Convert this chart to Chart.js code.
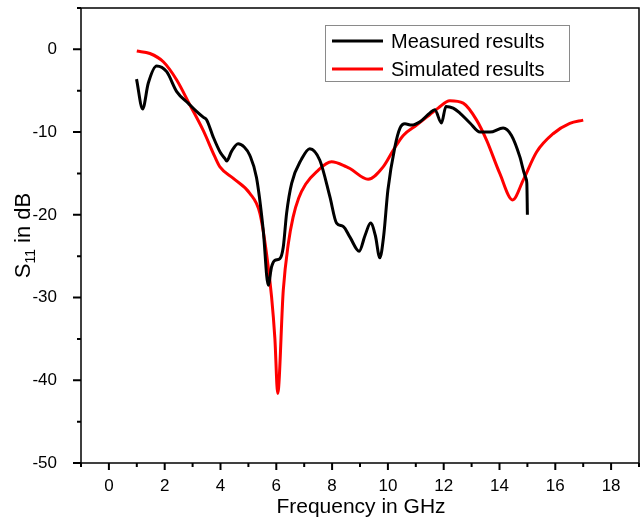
<!DOCTYPE html>
<html>
<head>
<meta charset="utf-8">
<script src="https://cdn.jsdelivr.net/npm/chart.js@4.4.1/dist/chart.umd.min.js"></script>
<style>
  html, body { margin: 0; padding: 0; background: #fff; }
  #wrap { width: 641px; height: 519px; }
</style>
</head>
<body>
<div id="wrap"><canvas id="s11Chart" width="641" height="519"></canvas></div>
<script>
// values
const measuredFreq = [0.99, 1.21, 1.41, 1.71, 2.07, 2.43, 2.84, 3.14, 3.38, 3.50, 3.74, 4.00, 4.16, 4.22, 4.40, 4.63, 4.85, 5.05, 5.29, 5.53, 5.71, 5.83, 5.95, 6.13, 6.25, 6.37, 6.55, 6.90, 7.20, 7.56, 7.92, 8.16, 8.40, 8.64, 8.97, 9.18, 9.38, 9.55, 9.71, 9.85, 10.0, 10.25, 10.43, 10.61, 10.85, 11.15, 11.50, 11.68, 11.92, 12.08, 12.34, 12.58, 12.94, 13.30, 13.66, 14.13, 14.43, 14.73, 14.87, 14.95, 14.98, 15.0];
const measuredS11 = [-3.6, -7.2, -4.1, -2.0, -2.7, -5.1, -6.5, -7.5, -8.2, -8.5, -10.6, -12.5, -13.2, -13.5, -12.3, -11.4, -11.8, -12.8, -15.5, -21.8, -28.5, -26.3, -25.5, -25.3, -23.9, -19.8, -16.2, -13.3, -12.0, -13.4, -17.8, -21.0, -21.4, -22.7, -24.4, -22.5, -21.0, -22.5, -25.2, -22.5, -17.0, -11.8, -9.55, -9.0, -9.15, -8.75, -7.7, -7.3, -8.9, -6.9, -7.1, -7.7, -8.9, -10.0, -10.0, -9.5, -10.4, -13.0, -14.8, -15.6, -16.2, -20.0];

const simulatedFreq = [1.0, 1.47, 1.95, 2.43, 2.90, 3.38, 3.80, 3.98, 4.46, 5.05, 5.41, 5.65, 5.83, 5.95, 6.05, 6.25, 6.43, 6.60, 6.80, 7.05, 7.44, 7.98, 8.52, 8.64, 9.29, 9.83, 10.19, 10.55, 11.03, 11.50, 11.80, 12.22, 12.70, 13.18, 13.54, 14.01, 14.47, 14.85, 15.33, 15.92, 16.52, 17.0];
const simulatedS11 = [-0.2, -0.5, -1.5, -3.7, -6.7, -9.8, -13.0, -14.2, -15.6, -17.4, -19.8, -24.7, -29.9, -35.0, -41.6, -29.1, -23.5, -20.3, -18.0, -16.3, -14.8, -13.6, -14.2, -14.4, -15.7, -14.2, -12.2, -10.4, -9.15, -7.9, -7.1, -6.2, -6.5, -8.55, -11.0, -15.0, -18.2, -15.8, -12.4, -10.2, -8.95, -8.55];

const xTickValues = [0, 2, 4, 6, 8, 10, 12, 14, 16, 18];
const yTickValues = [0, -10, -20, -30, -40, -50];

const seriesNames = ["Measured results", "Simulated results"];
const seriesColors = ["#000000", "#ff0000"];

const FONT = "'Liberation Sans', Arial, sans-serif";

function toPoints(xs, ys) {
  return xs.map((x, i) => ({ x: x, y: ys[i] }));
}

// frame, minor/major ticks, axis titles and the boxed legend
const decorPlugin = {
  id: "decor",
  afterDraw(chart) {
    const ctx = chart.ctx;
    const a = chart.chartArea;
    const xs = chart.scales.x, ys = chart.scales.y;
    ctx.save();
    ctx.strokeStyle = "#000";
    ctx.lineWidth = 1.5;
    ctx.strokeRect(a.left, a.top, a.right - a.left, a.bottom - a.top);

    ctx.lineWidth = 2;
    ctx.beginPath();
    for (let v = -1; v <= 19; v++) {
      const px = xs.getPixelForValue(v);
      const len = v % 2 === 0 ? 7 : 4;
      ctx.moveTo(px, a.bottom);
      ctx.lineTo(px, a.bottom + len);
    }
    for (let v = -50; v <= 5; v += 5) {
      const py = ys.getPixelForValue(v);
      const len = v % 10 === 0 ? 8 : 4;
      ctx.moveTo(a.left, py);
      ctx.lineTo(a.left - len, py);
    }
    ctx.stroke();

    // x title
    ctx.fillStyle = "#000";
    ctx.font = "21px " + FONT;
    ctx.textAlign = "center";
    ctx.textBaseline = "alphabetic";
    ctx.fillText("Frequency in GHz", (a.left + a.right) / 2 + 1, 513);

    // y title with subscript
    ctx.save();
    ctx.translate(30, (a.top + a.bottom) / 2);
    ctx.rotate(-Math.PI / 2);
    const big = "22px " + FONT, small = "14px " + FONT;
    ctx.font = big;
    const wS = ctx.measureText("S").width;
    const wRest = ctx.measureText(" in dB").width;
    ctx.font = small;
    const wSub = ctx.measureText("11").width;
    let x0 = -(wS + wSub + wRest) / 2;
    ctx.textAlign = "left";
    ctx.font = big;
    ctx.fillText("S", x0, 0);
    ctx.font = small;
    ctx.fillText("11", x0 + wS, 5);
    ctx.font = big;
    ctx.fillText(" in dB", x0 + wS + wSub, 0);
    ctx.restore();

    // legend
    ctx.strokeStyle = "#8a8a8a";
    ctx.lineWidth = 1;
    ctx.strokeRect(325.5, 25.5, 244, 56);
    ctx.font = "20px " + FONT;
    ctx.textAlign = "left";
    ctx.textBaseline = "middle";
    const rows = [41, 69];
    for (let i = 0; i < 2; i++) {
      ctx.strokeStyle = seriesColors[i];
      ctx.lineWidth = 3;
      ctx.beginPath();
      ctx.moveTo(332, rows[i]);
      ctx.lineTo(383, rows[i]);
      ctx.stroke();
      ctx.fillStyle = "#000";
      ctx.fillText(seriesNames[i], 391, rows[i] + 1);
    }
    ctx.restore();
  }
};

new Chart(document.getElementById("s11Chart"), {
  type: "line",
  data: {
    datasets: [
      {
        label: seriesNames[0],
        data: toPoints(measuredFreq, measuredS11),
        borderColor: seriesColors[0],
        borderWidth: 3,
        pointRadius: 0,
        cubicInterpolationMode: "monotone",
        fill: false,
      },
      {
        label: seriesNames[1],
        data: toPoints(simulatedFreq, simulatedS11),
        borderColor: seriesColors[1],
        borderWidth: 3,
        pointRadius: 0,
        cubicInterpolationMode: "monotone",
        fill: false,
      },
    ],
  },
  options: {
    responsive: false,
    animation: false,
    layout: { padding: { top: 8, right: 2, left: 0, bottom: 0 } },
    plugins: { legend: { display: false }, tooltip: { enabled: false } },
    scales: {
      x: {
        type: "linear",
        min: -1,
        max: 19,
        grid: { display: false },
        border: { display: false },
        afterBuildTicks: (s) => { s.ticks = xTickValues.map((v) => ({ value: v })); },
        afterFit: (s) => { s.height = 56; s.paddingLeft = 0; s.paddingRight = 0; },
        ticks: { color: "#000", font: { family: FONT, size: 17 }, padding: 5, maxRotation: 0 },
      },
      y: {
        type: "linear",
        min: -50,
        max: 5,
        grid: { display: false },
        border: { display: false },
        afterBuildTicks: (s) => { s.ticks = yTickValues.map((v) => ({ value: v })); },
        afterFit: (s) => { s.width = 81; s.paddingTop = 0; s.paddingBottom = 0; },
        ticks: { color: "#000", font: { family: FONT, size: 17 }, padding: 16 },
      },
    },
  },
  plugins: [decorPlugin],
});
</script>
</body>
</html>
